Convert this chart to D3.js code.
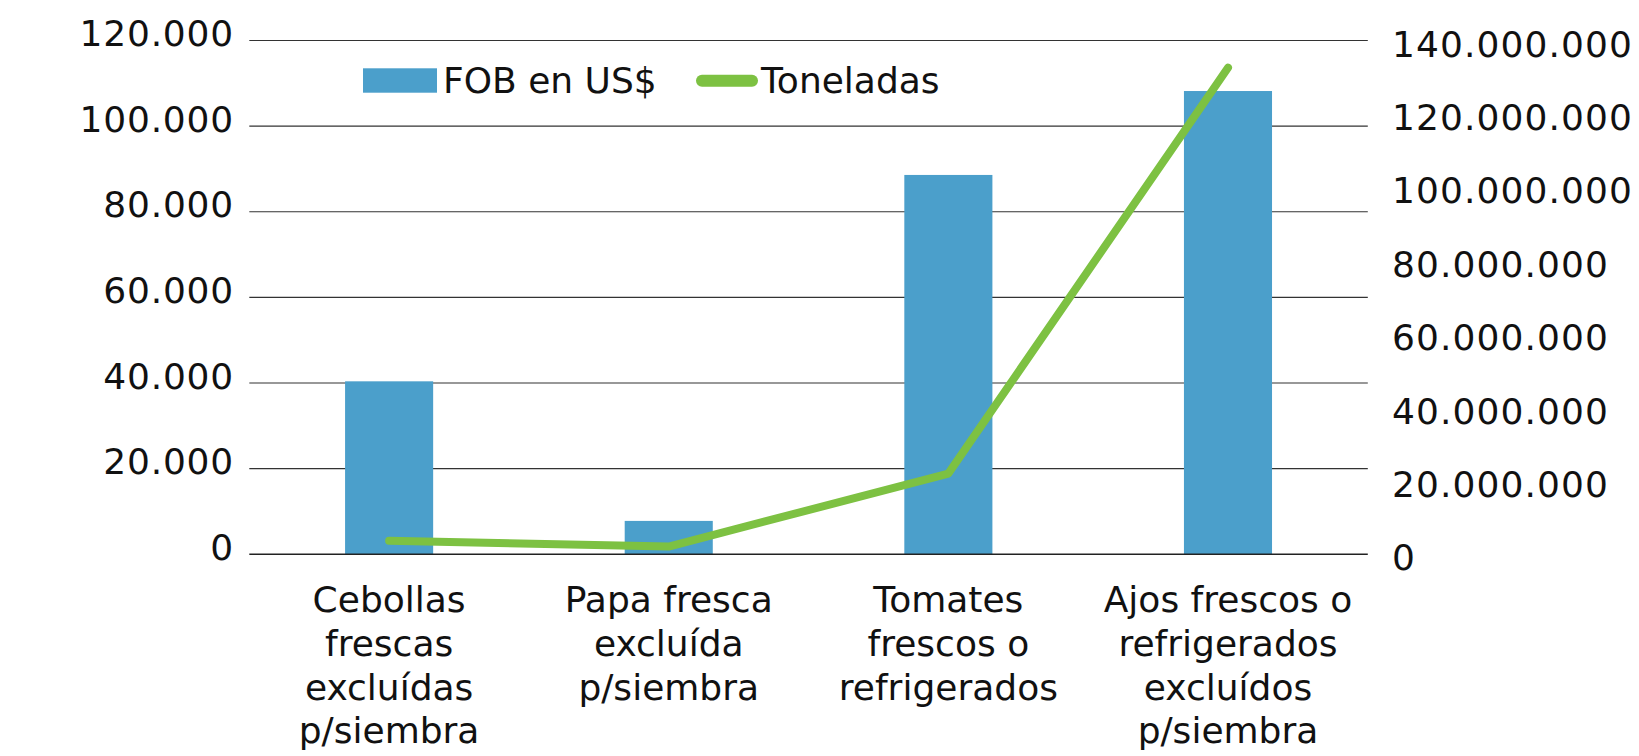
<!DOCTYPE html>
<html>
<head>
<meta charset="utf-8">
<script src="https://cdn.jsdelivr.net/npm/d3@7"></script>
<style>
  html, body { margin: 0; padding: 0; background: #fff; }
  svg text { font-family: "DejaVu Sans", sans-serif; fill: #111; }
</style>
</head>
<body>
<div id="chart"></div>
<script>
// data
var categories = [
  ["Cebollas", "frescas", "excluídas", "p/siembra"],
  ["Papa fresca", "excluída", "p/siembra"],
  ["Tomates", "frescos o", "refrigerados"],
  ["Ajos frescos o", "refrigerados", "excluídos", "p/siembra"]
];
var fob = [40400, 7800, 88600, 108200];              // bars, left axis
var toneladas = [3700000, 2100000, 22000000, 132600000]; // line, right axis
var leftTicks = [0, 20000, 40000, 60000, 80000, 100000, 120000];
var rightTicks = [0, 20000000, 40000000, 60000000, 80000000, 100000000, 120000000, 140000000];
var seriesNames = ["FOB en US$", "Toneladas"];

var W = 1639, H = 756;
var plotL = 249.3, plotR = 1367.8, plotT = 40.5, plotB = 554.3;
var barColor = "#4b9fcb", lineColor = "#7dc142";

var loc = d3.formatLocale({decimal: ",", thousands: ".", grouping: [3], currency: ["$", ""]});
var fmt = loc.format(",d");

var svg = d3.select("#chart").append("svg")
  .attr("width", W).attr("height", H);

var x = d3.scaleBand()
  .domain(d3.range(categories.length))
  .range([plotL, plotR])
  .paddingInner(0.685).paddingOuter(0.3425);
var xc = d3.scaleBand().domain(d3.range(categories.length)).range([plotL, plotR]);

var yL = d3.scaleLinear().domain([0, 120000]).range([plotB, plotT]);
var yR = d3.scaleLinear().domain([0, 140000000]).range([plotB, plotT]);

// gridlines
svg.append("g").selectAll("line")
  .data(leftTicks.slice(1))
  .enter().append("line")
    .attr("x1", plotL).attr("x2", plotR)
    .attr("y1", function(d) { return yL(d); })
    .attr("y2", function(d) { return yL(d); })
    .attr("stroke", "#333").attr("stroke-width", 1.1);

// left axis labels
svg.append("g").selectAll("text")
  .data(leftTicks)
  .enter().append("text")
    .attr("x", 234)
    .attr("y", function(d) { return yL(d) + 5.5; })
    .attr("text-anchor", "end")
    .style("font-size", "36px")
    .style("letter-spacing", "0.8px")
    .text(function(d) { return fmt(d); });

// right axis labels
svg.append("g").selectAll("text")
  .data(rightTicks)
  .enter().append("text")
    .attr("x", 1392)
    .attr("y", function(d) { return yR(d) + 16; })
    .style("font-size", "36px")
    .style("letter-spacing", "1.1px")
    .text(function(d) { return fmt(d); });

// bars
svg.append("g").selectAll("rect")
  .data(fob)
  .enter().append("rect")
    .attr("x", function(d, i) { return x(i); })
    .attr("width", x.bandwidth())
    .attr("y", function(d) { return yL(d); })
    .attr("height", function(d) { return plotB - yL(d); })
    .attr("fill", barColor);

// baseline
svg.append("line")
  .attr("x1", plotL).attr("x2", plotR)
  .attr("y1", plotB).attr("y2", plotB)
  .attr("stroke", "#222").attr("stroke-width", 1.6);

// line series
var line = d3.line()
  .x(function(d, i) { return xc(i) + xc.bandwidth() / 2; })
  .y(function(d) { return yR(d); });

svg.append("path")
  .datum(toneladas)
  .attr("d", line)
  .attr("fill", "none")
  .attr("stroke", lineColor)
  .attr("stroke-width", 8)
  .attr("stroke-linecap", "round")
  .attr("stroke-linejoin", "round");

// category labels
var cat = svg.append("g").selectAll("text")
  .data(categories)
  .enter().append("text")
    .attr("text-anchor", "middle")
    .style("font-size", "36px");
cat.selectAll("tspan")
  .data(function(d, i) { return d.map(function(s) { return {s: s, i: i}; }); })
  .enter().append("tspan")
    .attr("x", function(d) { return xc(d.i) + xc.bandwidth() / 2; })
    .attr("y", function(d, j) { return 611.7 + j * 43.9; })
    .text(function(d) { return d.s; });

// legend
var lg = svg.append("g");
lg.append("rect")
  .attr("x", 363).attr("y", 68.3).attr("width", 74).attr("height", 24.4)
  .attr("fill", barColor);
lg.append("text")
  .attr("x", 443).attr("y", 92.7)
  .style("font-size", "36px")
  .text(seriesNames[0]);
lg.append("line")
  .attr("x1", 702).attr("x2", 752).attr("y1", 80.7).attr("y2", 80.7)
  .attr("stroke", lineColor).attr("stroke-width", 12)
  .attr("stroke-linecap", "round");
lg.append("text")
  .attr("x", 761).attr("y", 92.7)
  .style("font-size", "36px")
  .text(seriesNames[1]);
</script>
</body>
</html>
